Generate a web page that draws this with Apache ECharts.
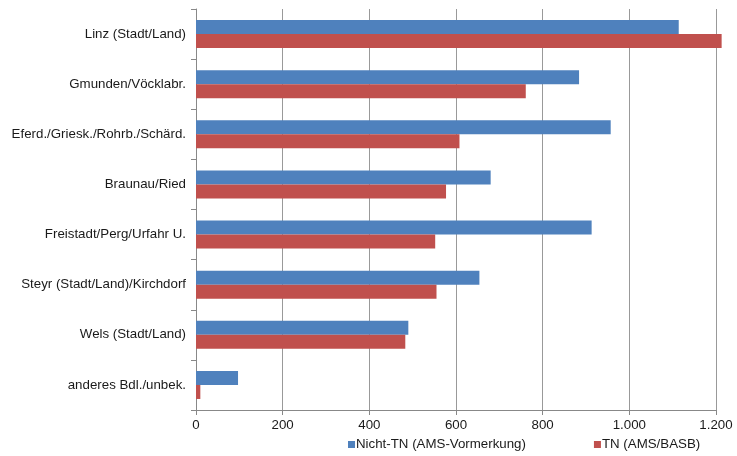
<!DOCTYPE html>
<html><head><meta charset="utf-8">
<script src="https://cdn.jsdelivr.net/npm/echarts@6/dist/echarts.min.js"></script>
<style>html,body{margin:0;padding:0;background:#fff}#c{width:737px;height:456px}</style>
</head><body><div id="c"></div>
<script>
const categories = ["Linz (Stadt/Land)","Gmunden/Vöcklabr.","Eferd./Griesk./Rohrb./Schärd.","Braunau/Ried","Freistadt/Perg/Urfahr U.","Steyr (Stadt/Land)/Kirchdorf","Wels (Stadt/Land)","anderes Bdl./unbek."];
const nichtTN = [1114, 884, 957, 680, 913, 654, 490, 97];
const tn = [1213, 761, 608, 577, 552, 555, 483, 10];
const seriesNames = ["Nicht-TN (AMS-Vormerkung)", "TN (AMS/BASB)"];
const xTicks = {min: 0, max: 1200, interval: 200};

const chart = echarts.init(document.getElementById('c'));
const font = 'Liberation Sans, Arial, sans-serif';
const fs = 13.3;
chart.setOption({
  animation: false,
  grid: {left: 196, right: 21, top: 9, bottom: 46, containLabel: false},
  legend: {
    data: seriesNames, bottom: 0, left: 343, itemGap: 68, itemWidth: 7, itemHeight: 7, icon: 'rect',
    textStyle: {fontFamily: font, fontSize: fs, color: '#1a1a1a', padding: [0,0,0,-4]}
  },
  xAxis: {
    type: 'value', min: xTicks.min, max: xTicks.max, interval: xTicks.interval,
    axisLine: {show: true, lineStyle: {color: '#888'}},
    axisTick: {show: true, length: 5, lineStyle: {color: '#888'}},
    splitLine: {show: true, lineStyle: {color: '#999', width: 1}},
    axisLabel: {fontFamily: font, fontSize: fs, color: '#1a1a1a', margin: 9,
      formatter: v => v.toString().replace(/\B(?=(\d{3})+(?!\d))/g, '.')}
  },
  yAxis: {
    type: 'category', data: categories, inverse: true,
    axisLine: {show: true, lineStyle: {color: '#888'}},
    axisTick: {show: true, length: 5, lineStyle: {color: '#888'}},
    axisLabel: {fontFamily: font, fontSize: fs, color: '#1a1a1a', margin: 10}
  },
  series: [
    {name: seriesNames[0], type: 'bar', data: nichtTN, barGap: '0%', barCategoryGap: '44%', clip: false,
     itemStyle: {color: '#4F81BD'}},
    {name: seriesNames[1], type: 'bar', data: tn, barGap: '0%', barCategoryGap: '44%', clip: false,
     itemStyle: {color: '#C0504D'}}
  ]
});
</script></body></html>
